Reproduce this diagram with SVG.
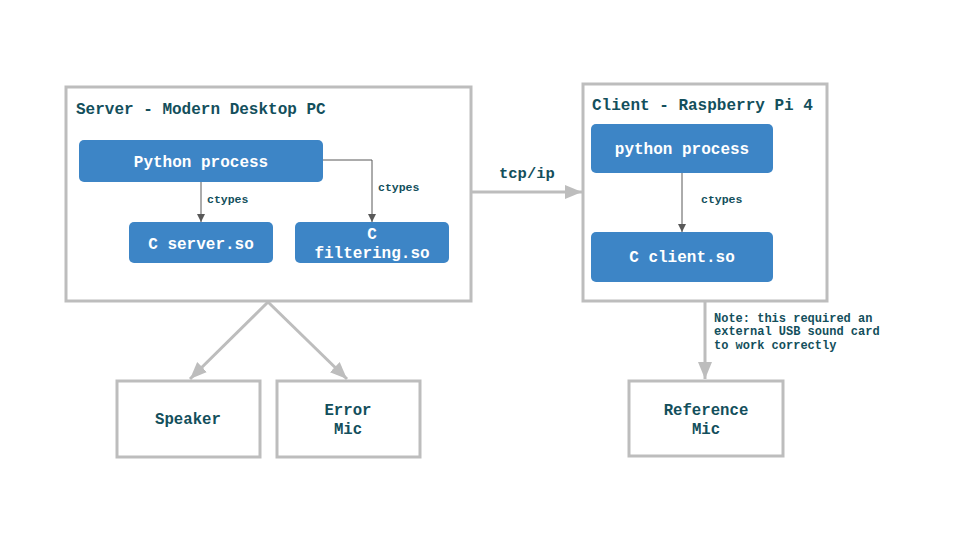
<svg xmlns="http://www.w3.org/2000/svg" width="960" height="540" viewBox="0 0 960 540">
<defs>
<style>
.t{font-family:"Liberation Mono","Courier New",monospace;font-weight:bold;fill:#134f5c}
.w{font-family:"Liberation Mono","Courier New",monospace;font-weight:bold;fill:#ffffff;font-size:16px;text-anchor:middle}
.frame{fill:#ffffff;stroke:#bdbdbd;stroke-width:3}
.blue{fill:#3d85c6}
.thin{fill:none;stroke:#595959;stroke-width:1}
.thick{fill:none;stroke:#bdbdbd;stroke-width:3}
.bx{font-size:15.7px;text-anchor:middle}
</style>
<marker id="ah" markerWidth="10" markerHeight="10" refX="8" refY="5" orient="auto" markerUnits="userSpaceOnUse"><path d="M0,1 L8,5 L0,9 z" fill="#595959"/></marker>
<marker id="big" markerWidth="20" markerHeight="20" refX="17" refY="10" orient="auto" markerUnits="userSpaceOnUse"><path d="M0,3 L17,10 L0,17 z" fill="#bdbdbd"/></marker>
</defs>
<rect width="960" height="540" fill="#ffffff"/>
<g id="server">
<rect class="frame" x="66" y="87" width="405" height="214"/>
<text class="t" x="76" y="114" font-size="16">Server - Modern Desktop PC</text>
</g>
<g id="client">
<rect class="frame" x="583" y="84" width="244" height="217"/>
<text class="t" x="592" y="110" font-size="16">Client - Raspberry Pi 4</text>
</g>
<g id="server-python">
<rect class="blue" x="79" y="140" width="244" height="42" rx="5"/>
<text class="w" x="201" y="167">Python process</text>
</g>
<g id="server-c">
<rect class="blue" x="129" y="222" width="144" height="41" rx="5"/>
<text class="w" x="201" y="249">C server.so</text>
</g>
<g id="filtering-c">
<rect class="blue" x="295" y="222" width="154" height="41" rx="5"/>
<text class="w" x="372" y="239">C</text>
<text class="w" x="372" y="258">filtering.so</text>
</g>
<g id="client-python">
<rect class="blue" x="591" y="124" width="182" height="49" rx="5"/>
<text class="w" x="682" y="154">python process</text>
</g>
<g id="client-c">
<rect class="blue" x="591" y="232" width="182" height="50" rx="5"/>
<text class="w" x="682" y="262">C client.so</text>
</g>
<g id="speaker">
<rect class="frame" x="117" y="381" width="143" height="76"/>
<text class="t bx" x="188" y="424">Speaker</text>
</g>
<g id="error-mic">
<rect class="frame" x="277" y="381" width="143" height="76"/>
<text class="t bx" x="348" y="415">Error</text>
<text class="t bx" x="348" y="434">Mic</text>
</g>
<g id="reference-mic">
<rect class="frame" x="629" y="381" width="154" height="75"/>
<text class="t bx" x="706" y="415">Reference</text>
<text class="t bx" x="706" y="434">Mic</text>
</g>
<g id="connectors">
<path class="thin" d="M201,182 V222" marker-end="url(#ah)"/>
<path class="thin" d="M323,160 H372 V222" marker-end="url(#ah)"/>
<path class="thick" d="M471,192 H582" marker-end="url(#big)"/>
<path class="thin" d="M682,173 V232" marker-end="url(#ah)"/>
<path class="thick" d="M268,302 L190,379" marker-end="url(#big)"/>
<path class="thick" d="M268,302 L347,379" marker-end="url(#big)"/>
<path class="thick" d="M705,301 V379" marker-end="url(#big)"/>
<text class="t" x="207" y="203" font-size="11.5">ctypes</text>
<text class="t" x="378" y="191" font-size="11.5">ctypes</text>
<text class="t" x="701" y="203" font-size="11.5">ctypes</text>
<text class="t" x="499" y="178" font-size="15.5">tcp/ip</text>
<text class="t" x="714" y="322" font-size="12">Note: this required an</text>
<text class="t" x="714" y="335" font-size="12">external USB sound card</text>
<text class="t" x="714" y="349" font-size="12">to work correctly</text>
</g>
</svg>
